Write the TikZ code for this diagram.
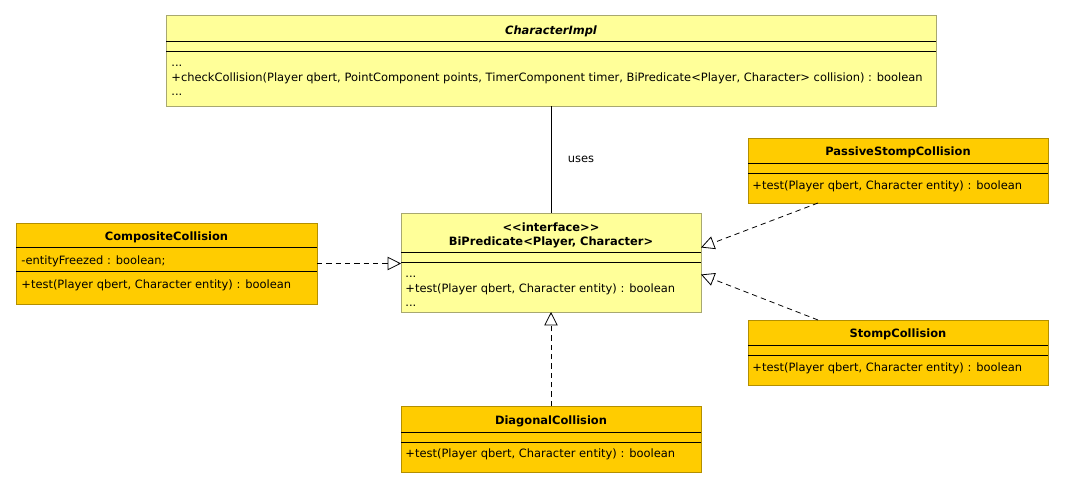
\documentclass[tikz,border=0pt]{standalone}
\usepackage{fontspec}
\setmainfont{DejaVu Sans}[Ligatures=TeXOff]
\usetikzlibrary{positioning}
\usetikzlibrary{arrows.meta}
\usetikzlibrary{calc}

\definecolor{umllight}{HTML}{FFFF99}
\definecolor{umlgold}{HTML}{FFCC00}
\definecolor{umllightline}{HTML}{A8A870}
\definecolor{umlgoldline}{HTML}{B38F00}

\begin{document}
\begin{tikzpicture}[
            > = {Triangle[open, length=10pt, width=10pt]}, % realization head
            x = 0.75pt, y = -0.75pt, % pixel grid, y down
            line width = 0.6pt,
            font = \fontsize{8.6}{10}\selectfont
            ]

        \tikzstyle{lightclass}=[
            draw = umllightline,
            fill = umllight,
            anchor = north west,
            inner sep = 0pt, outer sep = 0pt
        ]
        \tikzstyle{goldclass}=[
            draw = umlgoldline,
            fill = umlgold,
            anchor = north west,
            inner sep = 0pt, outer sep = 0pt
        ]
        \tikzstyle{classname}=[anchor = base, inner sep = 0pt, font = \fontsize{8.6}{10}\selectfont\bfseries]
        \tikzstyle{classmember}=[anchor = base west, inner sep = 0pt]
        \tikzstyle{realize}=[->, dash pattern = on 4pt off 3pt]

        \useasboundingbox (0,0) rectangle (1065,489);

        % abstract class
        \node[lightclass, minimum width = 577.5pt, minimum height = 68.25pt] (CI) at (166,15) {};
        \draw ($(CI.north west)+(0,26)$) -- ($(CI.north east)+(0,26)$);
        \draw ($(CI.north west)+(0,36)$) -- ($(CI.north east)+(0,36)$);
        \node[classname] (CIname) at (551,34) {\itshape CharacterImpl};
        \node[classmember] (CIm1) at (171,66) {...};
        \node[classmember] (CIm2) at (171,81) {+checkCollision(Player qbert, PointComponent points, TimerComponent timer, BiPredicate<Player, Character> collision) : boolean};
        \node[classmember] (CIm3) at (171,95) {...};

        % interface
        \node[lightclass, minimum width = 225pt, minimum height = 74.25pt] (BP) at (401,213) {};
        \draw ($(BP.north west)+(0,39)$) -- ($(BP.north east)+(0,39)$);
        \draw ($(BP.north west)+(0,49)$) -- ($(BP.north east)+(0,49)$);
        \node[classname] (BPstereo) at (551,231) {<{}<interface>{}>};
        \node[classname] (BPname) at (551,245) {BiPredicate<Player, Character>};
        \node[classmember] (BPm1) at (405,277) {...};
        \node[classmember] (BPm2) at (405,292) {+test(Player qbert, Character entity) : boolean};
        \node[classmember] (BPm3) at (405,306) {...};

        % implementations
        \node[goldclass, minimum width = 225.75pt, minimum height = 60.75pt] (CC) at (16,223) {};
        \draw ($(CC.north west)+(0,24)$) -- ($(CC.north east)+(0,24)$);
        \draw ($(CC.north west)+(0,48)$) -- ($(CC.north east)+(0,48)$);
        \node[classname] (CCname) at (166.5,240) {CompositeCollision};
        \node[classmember] (CCa1) at (21,264) {-entityFreezed : boolean;};
        \node[classmember] (CCm1) at (21,288) {+test(Player qbert, Character entity) : boolean};

        \node[goldclass, minimum width = 225pt, minimum height = 48.75pt] (PSC) at (748,138) {};
        \draw ($(PSC.north west)+(0,25)$) -- ($(PSC.north east)+(0,25)$);
        \draw ($(PSC.north west)+(0,35)$) -- ($(PSC.north east)+(0,35)$);
        \node[classname] (PSCname) at (898,155) {PassiveStompCollision};
        \node[classmember] (PSCm1) at (752,189) {+test(Player qbert, Character entity) : boolean};

        \node[goldclass, minimum width = 225pt, minimum height = 48.75pt] (SC) at (748,320) {};
        \draw ($(SC.north west)+(0,25)$) -- ($(SC.north east)+(0,25)$);
        \draw ($(SC.north west)+(0,35)$) -- ($(SC.north east)+(0,35)$);
        \node[classname] (SCname) at (898,337) {StompCollision};
        \node[classmember] (SCm1) at (752,371) {+test(Player qbert, Character entity) : boolean};

        \node[goldclass, minimum width = 225pt, minimum height = 49.5pt] (DC) at (401,406) {};
        \draw ($(DC.north west)+(0,26)$) -- ($(DC.north east)+(0,26)$);
        \draw ($(DC.north west)+(0,36)$) -- ($(DC.north east)+(0,36)$);
        \node[classname] (DCname) at (551,424) {DiagonalCollision};
        \node[classmember] (DCm1) at (405,457) {+test(Player qbert, Character entity) : boolean};

        % dependency
        \draw (CI) -- node[right = 9pt] (uses) {uses} (BP);

        % realizations
        \draw[realize] (CC.east) -- (CC.east -| BP.west);
        \draw[realize] ($(PSC.south)+(-80,0)$) -- ($(BP.east)+(0,-15)$);
        \draw[realize] ($(SC.north)+(-80,0)$) -- ($(BP.east)+(0,12)$);
        \draw[realize] (DC) -- (BP);

  \end{tikzpicture}
\end{document}
